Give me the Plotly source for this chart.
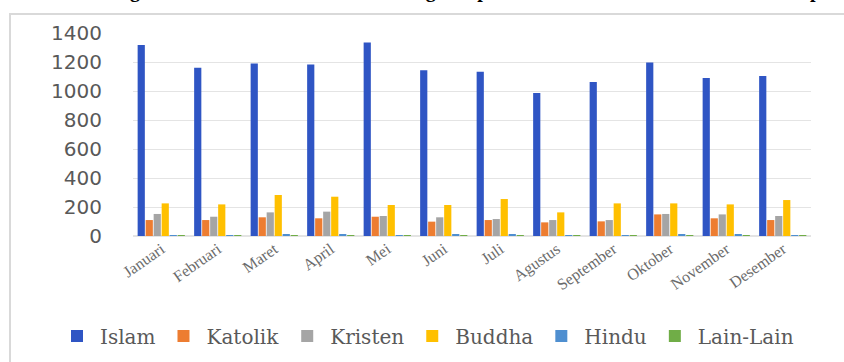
import plotly.graph_objects as go

months = ["Januari", "Februari", "Maret", "April", "Mei", "Juni", "Juli",
          "Agustus", "September", "Oktober", "November", "Desember"]
islam = [1317, 1160, 1190, 1183, 1335, 1143, 1132, 986, 1062, 1197, 1090, 1104]
katolik = [110, 110, 129, 122, 133, 99, 110, 94, 101, 149, 122, 110]
kristen = [152, 133, 163, 168, 138, 129, 117, 110, 110, 152, 149, 138]
buddha = [225, 218, 283, 271, 214, 214, 255, 163, 225, 225, 218, 248]
hindu = [4, 3, 8, 9, 4, 8, 8, 5, 4, 9, 7, 4]
lain = [2, 2, 3, 2, 2, 3, 3, 2, 2, 3, 2, 2]
yticks = [0, 200, 400, 600, 800, 1000, 1200, 1400]

series = [("Islam", islam, "#2F55C4"), ("Katolik", katolik, "#ED7D31"),
          ("Kristen", kristen, "#A5A5A5"), ("Buddha", buddha, "#FFC000"),
          ("Hindu", hindu, "#4F8FD0"), ("Lain-Lain", lain, "#70AD47")]

fig = go.Figure()
for name, vals, col in series:
    fig.add_trace(go.Bar(x=months, y=vals, name=name, marker_color=col,
                         marker_line_width=0))

L, R, T, B = 133, 811, 33, 236
W, H = 844, 362

def px(x):
    return (x - L) / (R - L)

def py(y):
    return (B - y) / (B - T)

fig.add_shape(type="rect", xref="paper", yref="paper", layer="below",
              x0=px(10), x1=px(900), y0=py(14), y1=py(420),
              line=dict(color="#d9d9d9", width=2), fillcolor="#ffffff")

fig.add_annotation(xref="paper", yref="paper", x=px(430), y=py(4),
                   xanchor="center", yanchor="bottom", showarrow=False,
                   text="<b>Perbandingan Jumlah Pasien Berdasarkan Agama pada Rumah Sakit Umum Utama Kesep</b>",
                   font=dict(family="Liberation Serif", size=20, color="#000000"))

fig.update_layout(
    width=W, height=H,
    margin=dict(l=L, r=W - R, t=T, b=H - B, autoexpand=False),
    paper_bgcolor="#ffffff", plot_bgcolor="rgba(0,0,0,0)",
    barmode="group", bargap=0.15, bargroupgap=0.1,
    showlegend=True,
    legend=dict(orientation="h", x=px(54), y=py(336), xanchor="left",
                yanchor="middle", itemwidth=36,
                font=dict(family="DejaVu Serif", size=20, color="#595959"),
                traceorder="normal", itemclick=False),
)
fig.update_xaxes(tickangle=-35, showgrid=False, showline=False, ticks="",
                 automargin=False,
                 tickfont=dict(family="Liberation Serif", size=16, color="#6b6b6b"))
fig.update_yaxes(range=[0, 1400], tickvals=yticks, showgrid=True,
                 gridcolor="#e4e4e4", gridwidth=1, zeroline=True,
                 zerolinecolor="#e4e4e4", showline=False, ticks="",
                 ticklabelstandoff=30, automargin=False,
                 tickfont=dict(family="DejaVu Sans", size=20, color="#595959"))

fig.write_html("out.html")
